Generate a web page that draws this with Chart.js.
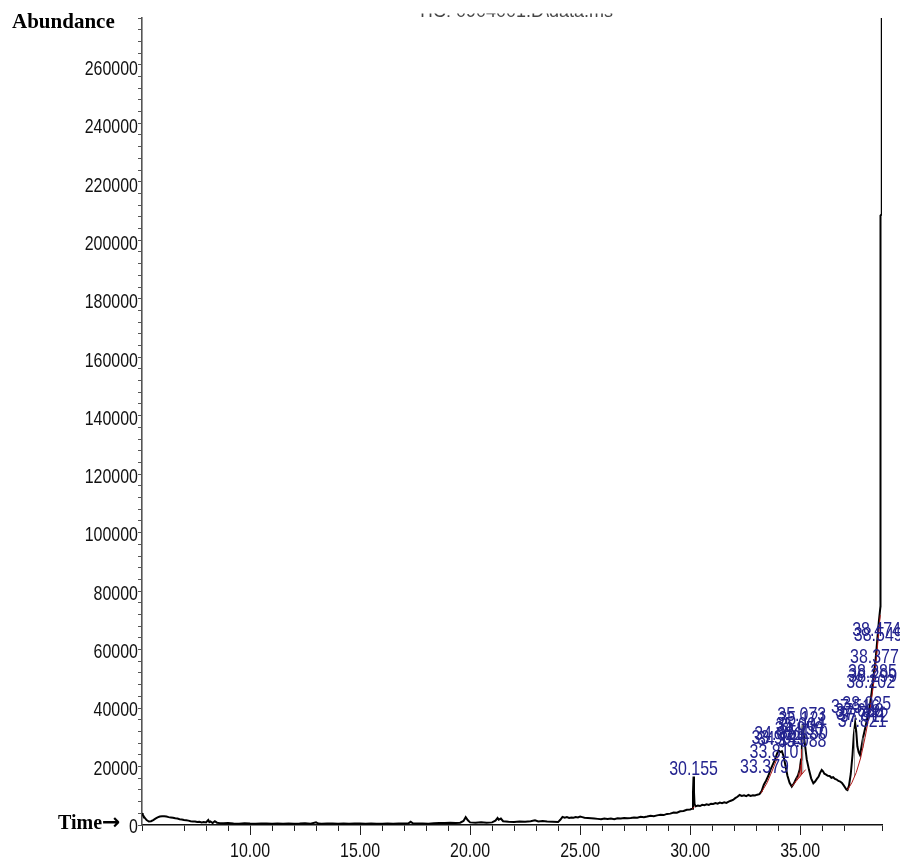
<!DOCTYPE html>
<html>
<head>
<meta charset="utf-8">
<script src="https://cdn.jsdelivr.net/npm/chart.js@4/dist/chart.umd.min.js"></script>
<style>
  html, body { margin: 0; padding: 0; background: #fff; overflow: hidden; }
  #wrap { width: 900px; height: 859px; position: relative; }
</style>
</head>
<body>
<div id="wrap"><canvas id="tic"></canvas></div>
<script>
// Total ion chromatogram: retention time (min) vs abundance
const times = [
  // 5 - 9 min
  5.09, 5.12, 5.2, 5.3, 5.4, 5.5, 5.6, 5.7, 5.8, 5.9, 6.0, 6.1, 6.2, 6.3, 6.4, 6.5, 6.6, 6.7, 6.8, 6.9,
  7.0, 7.1, 7.2, 7.3, 7.4, 7.5, 7.6, 7.7, 7.8, 7.9, 8.0, 8.1, 8.15, 8.2, 8.3, 8.4, 8.5, 8.6, 8.8, 9.0,
  // 9 - 24 min
  9.25, 9.5, 9.75, 10.0, 10.25, 10.5, 10.75, 11.0, 11.25, 11.5, 11.75, 12.0, 12.25, 12.5, 12.75, 13.0, 13.1, 13.25,
  13.5, 13.75, 14.0, 14.25, 14.5, 14.75, 15.0, 15.25, 15.5, 15.75, 16.0, 16.25, 16.5, 16.75, 17.0, 17.2, 17.3, 17.4,
  17.6, 17.85, 18.1, 18.35, 18.6, 18.85, 19.1, 19.35, 19.55, 19.7, 19.8, 19.9, 20.0, 20.25, 20.5, 20.75, 21.0, 21.15,
  21.25, 21.3, 21.4, 21.5, 21.75, 22.0, 22.25, 22.5, 22.75, 22.95, 23.1, 23.3, 23.5, 23.75, 24.0,
  // 24 - 30 min
  24.1, 24.2, 24.3, 24.4, 24.5, 24.6, 24.7, 24.8, 24.9, 25.0,
  25.1, 25.2, 25.35, 25.5, 25.65, 25.8, 25.95, 26.1, 26.25, 26.4,
  26.55, 26.7, 26.85, 27.0, 27.15, 27.3, 27.45, 27.6, 27.75, 27.9,
  28.05, 28.2, 28.35, 28.5, 28.65, 28.8, 28.95, 29.1, 29.25, 29.4,
  29.55, 29.7, 29.85, 30.0, 30.1,
  // peak at 30.155
  30.13, 30.155, 30.175,
  // 30 - 33 min
  30.2, 30.25, 30.35, 30.45, 30.55, 30.65, 30.75, 30.85, 30.95, 31.05,
  31.15, 31.25, 31.35, 31.45, 31.55, 31.65, 31.75, 31.85, 31.95, 32.05,
  32.15, 32.25, 32.35, 32.45, 32.55, 32.65, 32.75, 32.85, 32.95, 33.05,
  33.15,
  // 33 - 35.5 min
  33.25, 33.35, 33.45, 33.55, 33.65, 33.75, 33.85, 33.95, 34.02, 34.1, 34.17, 34.25, 34.33, 34.42,
  34.52, 34.62, 34.72, 34.8, 34.9, 34.98, 35.04, 35.08, 35.12, 35.16, 35.22, 35.3, 35.4, 35.5,
  // 35.5 - 37.2 min
  35.6, 35.68, 35.76, 35.84, 35.9, 35.98, 36.04, 36.1, 36.18, 36.26, 36.34,
  36.42, 36.5, 36.58, 36.66, 36.74, 36.82, 36.9, 36.98, 37.05, 37.1, 37.15,
  // 37.2 - end
  37.22, 37.3, 37.38, 37.44, 37.5, 37.55, 37.6, 37.66, 37.72, 37.78, 37.86, 37.95,
  38.05, 38.15, 38.25, 38.33, 38.42, 38.5, 38.58, 38.65, 38.652, 38.705, 38.71
];
const abundance = [
  // 5 - 9 min
  4100, 3600, 2600, 1700, 1200, 1300, 1700, 2200, 2600, 2900, 3000, 3000, 2900, 2700, 2600, 2500, 2300, 2200, 2000, 1900,
  1700, 1600, 1500, 1300, 1200, 1200, 1000, 1100, 900, 1000, 900, 1700, 1000, 1200, 700, 1300, 800, 700, 600, 700,
  // 9 - 24 min
  500, 450, 600, 500, 450, 550, 500, 400, 500, 450, 550, 450, 500, 600, 450, 900, 500, 450,
  500, 550, 450, 500, 400, 550, 500, 450, 500, 400, 450, 500, 450, 550, 500, 600, 1100, 600,
  500, 550, 450, 600, 700, 650, 800, 700, 800, 1400, 2700, 1600, 900, 800, 900, 800, 900, 1500,
  2400, 1800, 2200, 1300, 1100, 1000, 1200, 1100, 1300, 1600, 1200, 1400, 1200, 1100, 1000,
  // 24 - 30 min
  1800, 2800, 2500, 2700, 2400, 2600, 2500, 2700, 2600, 2900,
  2700, 2500, 2400, 2300, 2200, 2100, 2000, 2200, 2100, 2200,
  2000, 2300, 2200, 2400, 2300, 2400, 2600, 2500, 2800, 2700,
  2900, 3200, 3000, 3300, 3500, 3400, 3800, 3900, 4300, 4200,
  4700, 4800, 5200, 5300, 5600,
  // peak at 30.155
  11000, 16600, 11500,
  // 30 - 33 min
  7200, 6400, 6700, 6500, 6900, 6800, 7100, 6900, 7300, 7200,
  7500, 7300, 7700, 7500, 7800, 7600, 8000, 8300, 8600, 9200,
  9700, 10300, 10000, 10200, 9900, 10300, 10000, 10200, 10100, 10400,
  10600,
  // 33 - 35.5 min
  11600, 13800, 15200, 16800, 18900, 20600, 22300, 24500, 25600, 25000, 25300, 23500, 20500, 17000,
  14500, 13200, 14300, 15600, 17000, 19000, 22500, 30000, 34500, 31000, 27500, 22500, 19000, 16000,
  // 35.5 - 37.2 min
  14300, 14900, 15800, 16600, 17800, 18900, 18400, 17600, 17300, 16900, 16800,
  16200, 16400, 15800, 15600, 15100, 14900, 14400, 13600, 12800, 12200, 12000,
  // 37.2 - end
  13500, 17500, 24000, 31000, 35000, 32000, 27000, 25000, 24000, 26500, 30000, 33000,
  36500, 40000, 45500, 51000, 56000, 63000, 70000, 75000, 209000, 209500, 320000
];

// Integration baselines (red)
const base0Times = [30.11, 30.2];
const base0Values = [5550, 6300];
const base1Times = [33.22, 33.35, 33.5, 33.65, 33.8, 33.95, 34.06];
const base1Values = [10900, 12600, 14500, 17200, 19900, 22800, 24400];
const base2Times = [34.62, 35.25];
const base2Values = [13200, 19000];
const base3Times = [37.15, 37.35, 37.55, 37.75, 37.95, 38.15, 38.35, 38.5, 38.64];
const base3Values = [12000, 14500, 18000, 23000, 30000, 38000, 49000, 60000, 72000];

// Peak boundary drops: red inside the 35-min group, grey at apexes
const redDropTimes = [34.78, 34.86, 34.94, 35.0, 35.06];
const redDropLow = [14670, 15410, 16150, 16700, 17250];
const redDropHigh = [15100, 16400, 18000, 20700, 26000];
const greyDropTimes = [35.12, 37.47, 37.86];
const greyDropLow = [17800, 16500, 26500];
const greyDropHigh = [34500, 33000, 30000];

// Retention-time annotations and the abundance level each label sits on
const peakLabels = [
  '30.155',
  '33.379', '33.810', '33.902', '34.021', '34.143',
  '34.950', '35.004', '35.073', '35.121', '35.150', '35.088',
  '37.516', '38.025', '37.688', '37.744', '37.912', '37.821',
  '38.202', '38.299', '38.285', '38.377', '38.474', '38.549'
];
const peakLevels = [
  17150,
  17840, 22980, 27780, 29160, 27440,
  30870, 32240, 35670, 34300, 29500, 26750,
  38420, 39450, 37040, 36020, 35330, 33610,
  46990, 49050, 50420, 55570, 64830, 63110
];

// Tick labels
const yTickValues = [0, 20000, 40000, 60000, 80000, 100000, 120000, 140000, 160000, 180000, 200000, 220000, 240000, 260000];
const xTickValues = [10, 15, 20, 25, 30, 35];

// Axis settings
const xMin = 5.09, xMax = 38.72;
const yMax = 276800;
const yMinorStep = 4000, xMinorStep = 1;

const SANS = "'Liberation Sans', Arial, sans-serif";
const SERIF = "'Liberation Serif', 'Times New Roman', serif";
const TEXT_SIZE = 21;      // narrow digit style: regular face squeezed horizontally
const SQUEEZE = 0.76;

function narrowText(ctx, txt, x, y, align) {
  ctx.save();
  ctx.translate(x, y);
  ctx.scale(SQUEEZE, 1);
  ctx.textAlign = align;
  ctx.fillText(txt, 0, 0);
  ctx.restore();
}

const pts = (xs, ys) => xs.map((t, i) => ({ x: t, y: ys[i] }));
const drops = (xs, lo, hi) => {
  const out = [];
  xs.forEach((t, i) => { out.push({ x: t, y: lo[i] }, { x: t, y: hi[i] }, { x: t, y: null }); });
  return out;
};

const lineDefaults = { pointRadius: 0, tension: 0, fill: false, spanGaps: false };

const annotatePeaks = {
  id: 'annotatePeaks',
  afterDatasetsDraw(chart) {
    const { ctx, scales: { x, y } } = chart;
    ctx.save();
    ctx.font = TEXT_SIZE + 'px ' + SANS;
    ctx.fillStyle = '#23238f';
    ctx.textBaseline = 'alphabetic';
    peakLabels.forEach((txt, i) => {
      narrowText(ctx, txt, x.getPixelForValue(parseFloat(txt)), y.getPixelForValue(peakLevels[i]), 'center');
    });
    ctx.restore();
  }
};

const axisText = {
  id: 'axisText',
  afterDraw(chart) {
    const { ctx, scales: { x, y } } = chart;
    ctx.save();
    const y0 = y.getPixelForValue(0);
    // longer ticks at the labelled times
    ctx.strokeStyle = '#222';
    ctx.lineWidth = 1;
    xTickValues.forEach(t => {
      const px = Math.round(x.getPixelForValue(t)) + 0.5;
      ctx.beginPath();
      ctx.moveTo(px, y0 + 6);
      ctx.lineTo(px, y0 + 10);
      ctx.stroke();
    });
    // tick labels
    ctx.fillStyle = '#111';
    ctx.font = TEXT_SIZE + 'px ' + SANS;
    ctx.textBaseline = 'alphabetic';
    yTickValues.forEach(v => {
      narrowText(ctx, String(v), y.left + y.width - 4, y.getPixelForValue(v) + 8, 'right');
    });
    xTickValues.forEach(v => {
      narrowText(ctx, v.toFixed(2), x.getPixelForValue(v), y0 + 32, 'center');
    });
    // axis captions
    ctx.fillStyle = '#000';
    ctx.font = 'bold 21px ' + SERIF;
    ctx.textAlign = 'left';
    ctx.fillText('Abundance', 12, 28);
    ctx.font = 'bold 20px ' + SERIF;
    ctx.fillText('Time', 58, 829);
    ctx.font = 'bold 22px ' + "'DejaVu Sans', sans-serif";
    ctx.fillText('\u2192', 102, 829);
    // file header line, mostly cut off by the top margin
    ctx.beginPath();
    ctx.rect(0, 13.5, 900, 3.5);
    ctx.clip();
    ctx.fillStyle = '#444';
    ctx.font = '18px ' + SANS;
    ctx.textAlign = 'center';
    ctx.fillText('TIC: 0904001.D\\data.ms', 515, 17);
    ctx.restore();
  }
};

new Chart(document.getElementById('tic'), {
  type: 'line',
  data: {
    datasets: [
      { data: pts(base0Times, base0Values), borderColor: '#b01818', borderWidth: 1, ...lineDefaults },
      { data: pts(base1Times, base1Values), borderColor: '#b01818', borderWidth: 1, ...lineDefaults },
      { data: pts(base2Times, base2Values), borderColor: '#b01818', borderWidth: 1, ...lineDefaults },
      { data: pts(base3Times, base3Values), borderColor: '#b01818', borderWidth: 1, ...lineDefaults },
      { data: drops(redDropTimes, redDropLow, redDropHigh), borderColor: '#b01818', borderWidth: 1, ...lineDefaults },
      { data: drops(greyDropTimes, greyDropLow, greyDropHigh), borderColor: '#9a9a9a', borderWidth: 1, ...lineDefaults },
      { data: pts(times, abundance), borderColor: '#000', borderWidth: 2, ...lineDefaults }
    ]
  },
  options: {
    responsive: true,
    maintainAspectRatio: false,
    animation: false,
    events: [],
    layout: { padding: { top: 18, right: 18, left: 0, bottom: 0 } },
    plugins: { legend: { display: false }, tooltip: { enabled: false }, title: { display: false } },
    scales: {
      x: {
        type: 'linear',
        min: xMin,
        max: xMax,
        afterFit(s) { s.height = 34; },
        border: { display: true, color: '#111', width: 1.6 },
        grid: { display: true, drawOnChartArea: false, drawTicks: true, tickLength: 6, tickColor: '#222', tickWidth: 1 },
        ticks: { stepSize: xMinorStep, autoSkip: false, maxRotation: 0, maxTicksLimit: 1000, callback: () => '' }
      },
      y: {
        type: 'linear',
        min: 0,
        max: yMax,
        afterFit(s) { s.width = 142; },
        border: { display: true, color: '#555', width: 1.6 },
        grid: { display: true, drawOnChartArea: false, drawTicks: true, tickLength: 4, tickColor: '#555', tickWidth: 1 },
        ticks: { stepSize: yMinorStep, autoSkip: false, maxTicksLimit: 1000, callback: () => '' }
      }
    }
  },
  plugins: [annotatePeaks, axisText]
});
</script>
</body>
</html>
